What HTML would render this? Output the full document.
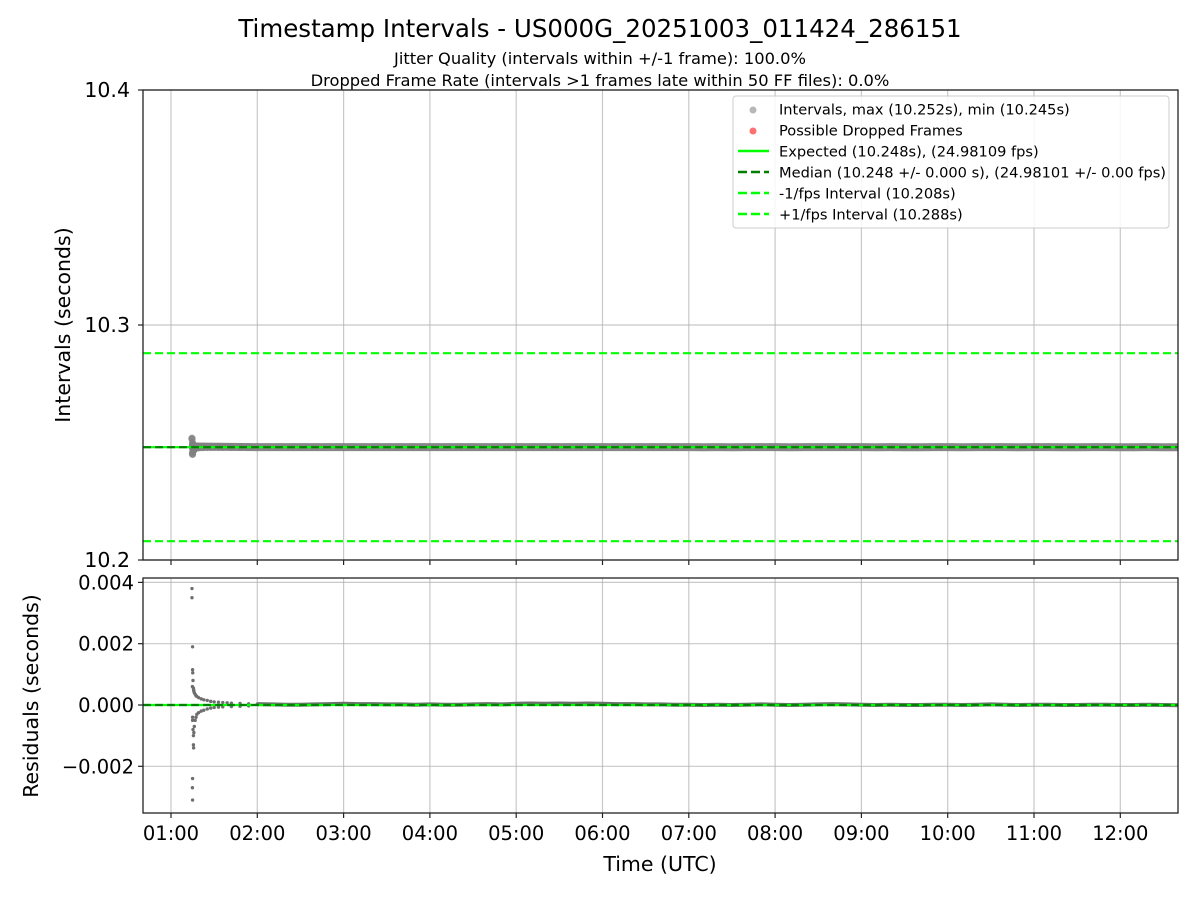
<!DOCTYPE html>
<html><head><meta charset="utf-8">
<style>
html,body{margin:0;padding:0;background:#fff;}
svg{display:block;font-family:"DejaVu Sans","Liberation Sans",sans-serif;}
</style></head>
<body>
<svg id="chart" width="1200" height="900" viewBox="0 0 1200 900" xmlns="http://www.w3.org/2000/svg">
<rect width="1200" height="900" fill="#fff"/>
<text x="600" y="37" text-anchor="middle" font-size="24.5">Timestamp Intervals - US000G_20251003_011424_286151</text>
<text x="600" y="64" text-anchor="middle" font-size="16.3">Jitter Quality (intervals within +/-1 frame): 100.0%</text>
<text x="600" y="86" text-anchor="middle" font-size="16.3">Dropped Frame Rate (intervals &gt;1 frames late within 50 FF files): 0.0%</text>
<g id="top"></g>
<g id="bot"></g>
<text transform="translate(70,325) rotate(-90)" text-anchor="middle" font-size="20.5">Intervals (seconds)</text>
<text transform="translate(38,696) rotate(-90)" text-anchor="middle" font-size="20.5">Residuals (seconds)</text>
<text x="660" y="871" text-anchor="middle" font-size="20.5">Time (UTC)</text>
<g>
<rect x="733" y="96" width="436" height="132" rx="3" fill="#fff" fill-opacity="0.85" stroke="#ccc"/>
<circle cx="753" cy="110" r="3.5" fill="#999" fill-opacity="0.7"/>
<text x="779" y="114.5" font-size="14.6">Intervals, max (10.252s), min (10.245s)</text>
<circle cx="753" cy="131" r="3.5" fill="#f33" fill-opacity="0.7"/>
<text x="779" y="135.5" font-size="14.6">Possible Dropped Frames</text>
<line x1="738" y1="151" x2="769" y2="151" stroke="#00ff00" stroke-width="2.5"/>
<text x="779" y="156.5" font-size="14.6">Expected (10.248s), (24.98109 fps)</text>
<line x1="738" y1="172" x2="769" y2="172" stroke="#007f00" stroke-width="2.5" stroke-dasharray="9,4"/>
<text x="779" y="177.5" font-size="14.6">Median (10.248 +/- 0.000 s), (24.98101 +/- 0.00 fps)</text>
<line x1="738" y1="193" x2="769" y2="193" stroke="#00ff00" stroke-width="2.5" stroke-dasharray="9,4"/>
<text x="779" y="198.5" font-size="14.6">-1/fps Interval (10.208s)</text>
<line x1="738" y1="214" x2="769" y2="214" stroke="#00ff00" stroke-width="2.5" stroke-dasharray="9,4"/>
<text x="779" y="219.5" font-size="14.6">+1/fps Interval (10.288s)</text>
</g>
</svg>
<script>
const xTickLabels=["01:00","02:00","03:00","04:00","05:00","06:00","07:00","08:00","09:00","10:00","11:00","12:00"];
const xTickHours=[1,2,3,4,5,6,7,8,9,10,11,12];
const topTicks=[10.2,10.3,10.4];
const botTicks=[-0.002,0,0.002,0.004];
const botTickLabels=["\u22120.002","0.000","0.002","0.004"];
const expected=10.248, median=10.248, minusFps=10.208, plusFps=10.288;
// early residual points: time (hours), residual (s)
const earlyT=[1.243,1.243,1.25,1.25,1.252,1.255,1.248,1.26,1.262,1.265,1.27,1.28,1.29,1.3,1.32,1.35,1.38,1.42,1.46,1.5,1.55,1.6,1.65,1.7,1.8,1.9,
1.25,1.25,1.255,1.26,1.26,1.262,1.265,1.27,1.28,1.29,1.3,1.32,1.35,1.38,1.42,1.46,1.5,1.55,1.6,1.7,1.8,1.9,1.25,1.248,1.25];
const earlyR=[0.0038,0.0035,0.0019,0.00115,0.00105,0.0008,0.0006,0.00055,0.0005,0.00045,0.0004,0.00035,0.0003,0.00028,0.00024,0.0002,0.00017,0.00015,0.00012,0.0001,0.00009,0.00008,0.00007,0.00006,0.00005,0.00004,
-0.0004,-0.0005,-0.0008,-0.001,-0.0013,-0.0014,-0.0009,-0.0007,-0.0005,-0.0004,-0.0003,-0.00025,-0.0002,-0.00017,-0.00013,-0.0001,-0.00008,-0.00007,-0.00006,-0.00005,-0.00004,-0.00003,-0.0024,-0.0027,-0.0031];
// later residuals sampled every 10 minutes from 02:00 to 12:40
const lateR=[0.00003,0.00002,0.00001,0.00001,0.00002,0.00003,0.00004,0.00003,0.00003,0.00002,0.00002,0.00001,0.00002,0.00001,0.00001,0.00002,0.00003,0.00002,0.00004,0.00005,0.00004,0.00005,0.00004,0.00005,0.00004,0.00003,0.00003,0.00002,0.00002,0.00001,0.00001,0.0,0.00001,0.0,0.00001,0.00002,0.00001,0.0,0.00001,0.00002,0.00003,0.00002,0.00001,0.0,0.00001,0.0,0.0,0.00001,0.00001,0.0,0.00001,0.00002,0.00001,0.0,0.00001,0.00001,0.0,0.0,0.00001,0.00001,0.0,0.0,0.00001,0.0,-0.00001,0.0];

const NS="http://www.w3.org/2000/svg";
const svg=document.getElementById('chart');
const top_=document.getElementById('top'), bot=document.getElementById('bot');
const L=143,R=1178,T1=90,B1=560,T2=578,B2=813;
const xS=h=>171+(h-1)*86.3;
const y1=v=>T1+(10.4-v)/0.2*(B1-T1);
const y2=v=>705-v/0.002*61.3;
function mk(tag,at,parent){const e=document.createElementNS(NS,tag);for(const k in at)e.setAttribute(k,at[k]);parent.appendChild(e);return e;}

xTickHours.forEach((h,i)=>{
  const x=xS(h);
  let g=mk('line',{x1:x,y1:T1,x2:x,y2:B1,stroke:'#b0b0b0','stroke-opacity':0.7,'stroke-width':1.2},top_);
  
  
  g=mk('line',{x1:x,y1:T2,x2:x,y2:B2,stroke:'#b0b0b0','stroke-opacity':0.7,'stroke-width':1.2},bot);
  
  
  mk('line',{x1:x,y1:B1,x2:x,y2:B1+5,stroke:'#222','stroke-width':1.2},top_);
  mk('line',{x1:x,y1:B2,x2:x,y2:B2+5,stroke:'#222','stroke-width':1.2},bot);
  const t=mk('text',{x:x,y:B2+27,'text-anchor':'middle','font-size':19.5},bot);
  t.textContent=xTickLabels[i];
  
  
});
topTicks.forEach(v=>{
  const y=y1(v);
  mk('line',{x1:L,y1:y,x2:R,y2:y,stroke:'#b0b0b0','stroke-opacity':0.7,'stroke-width':1.2},top_);
  mk('line',{x1:L-5,y1:y,x2:L,y2:y,stroke:'#222','stroke-width':1.2},top_);
  const t=mk('text',{x:L-13,y:y+7,'text-anchor':'end','font-size':20.5},top_);
  t.textContent=v.toFixed(1);
  
  
});
botTicks.forEach((v,i)=>{
  const y=y2(v);
  mk('line',{x1:L,y1:y,x2:R,y2:y,stroke:'#b0b0b0','stroke-opacity':0.7,'stroke-width':1.2},bot);
  mk('line',{x1:L-5,y1:y,x2:L,y2:y,stroke:'#222','stroke-width':1.2},bot);
  const t=mk('text',{x:L-9,y:y+7,'text-anchor':'end','font-size':19.5},bot);
  t.textContent=botTickLabels[i];
  
  
});

const defs=mk('defs',{},svg);
const c1=mk('clipPath',{id:'c1'},defs);mk('rect',{x:L,y:T1,width:R-L,height:B1-T1},c1);
const c2=mk('clipPath',{id:'c2'},defs);mk('rect',{x:L,y:T2,width:R-L,height:B2-T2},c2);
const d1=mk('g',{'clip-path':'url(#c1)'},top_), d2=mk('g',{'clip-path':'url(#c2)'},bot);

function hline(g,y,col,dash,name){const l=mk('line',{x1:L,y1:y,x2:R,y2:y,stroke:col,'stroke-width':2.2},g);if(dash)l.setAttribute('stroke-dasharray',dash);return l;}
hline(d1,y1(plusFps),'#00ff00','8,4','plus-fps-line');
hline(d1,y1(minusFps),'#00ff00','8,4','minus-fps-line');

const lateT=lateR.map((_,i)=>2+i/6);
let pts=lateT.map((t,i)=>xS(t)+','+y1(expected+lateR[i])).join(' ');
let band=mk('polyline',{points:xS(1.27)+','+y1(expected+0.0003)+' '+pts,fill:'none',stroke:'#808080','stroke-width':8,'stroke-opacity':0.95},d1);


earlyT.forEach((t,i)=>{
  const r=earlyR[i];
  const c=mk('circle',{cx:xS(t),cy:y1(expected+r),r:3.6,fill:'#808080','fill-opacity':0.75},d1);
  
  
  const c2_=mk('circle',{cx:xS(t),cy:y2(r),r:1.7,fill:'#6e6e6e'},d2);
  
  
});
lateT.forEach((t,i)=>{
  const c=mk('circle',{cx:xS(t),cy:y2(lateR[i]),r:1.7,fill:'#6e6e6e'},d2);
  
  
});
let rb=mk('polyline',{points:lateT.map((t,i)=>xS(t)+','+y2(lateR[i])).join(' '),fill:'none',stroke:'#6e6e6e','stroke-width':4},d2);



hline(d1,y1(expected),'#00ff00',null,'expected-line');
hline(d1,y1(median),'#007f00','8,4','median-line');
hline(d2,y2(0),'#00ff00',null,'expected-residual-line');
hline(d2,y2(0),'#007f00','8,4','median-residual-line');

mk('rect',{x:L,y:T1,width:R-L,height:B1-T1,fill:'none',stroke:'#222','stroke-width':1.3},top_);
mk('rect',{x:L,y:T2,width:R-L,height:B2-T2,fill:'none',stroke:'#222','stroke-width':1.3},bot);
</script>
</body></html>
